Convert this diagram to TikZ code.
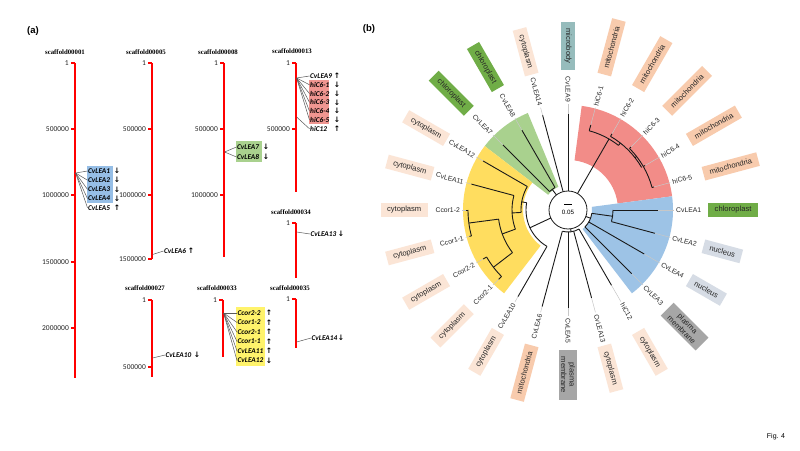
\documentclass[tikz,border=0pt]{standalone}
\usepackage{fontspec}
\setmainfont{Liberation Sans}
\newfontfamily\calib{Carlito}
\newfontfamily\serifb{Liberation Serif}
\newfontfamily\djv{DejaVu Sans}
\definecolor{cytoC}{RGB}{251,229,214}
\definecolor{mitoC}{RGB}{248,203,173}
\definecolor{chloC}{RGB}{112,173,71}
\definecolor{microC}{RGB}{150,188,188}
\definecolor{nucC}{RGB}{214,220,229}
\definecolor{pmC}{RGB}{166,166,166}
\definecolor{redW}{RGB}{242,140,136}
\definecolor{blueW}{RGB}{157,195,230}
\definecolor{greenW}{RGB}{169,209,142}
\definecolor{yellowW}{RGB}{255,221,95}
\definecolor{blueA}{RGB}{150,190,230}
\definecolor{greenA}{RGB}{169,209,142}
\definecolor{redA}{RGB}{240,150,145}
\definecolor{yellowA}{RGB}{255,243,107}
\newcommand\brRad[3]{\draw[br] (#1:#2pt) -- (#1:#3pt);}
\newcommand\brArc[3]{\draw[br] (#2:#1pt) arc[start angle=#2, end angle=#3, radius=#1pt];}
\begin{document}
\begin{tikzpicture}[x=1pt,y=1pt]
\tikzset{
 chrom/.style={draw=red, line width=1.3pt},
 chtick/.style={draw=red, line width=1.1pt},
 tlab/.style={font=\calib\fontsize{7.5}{8}\selectfont, anchor=east, inner sep=0pt, text=black!85},
 ttl/.style={font=\serifb\bfseries\fontsize{6.8}{8}\selectfont, inner sep=0pt},
 gene/.style={font=\calib\bfseries\itshape\fontsize{7.3}{8}\selectfont, anchor=west, inner sep=0.5pt},
 arr/.style={font=\djv\bfseries\fontsize{7.5}{8}\selectfont, inner sep=0pt},
 conn/.style={draw=black!65, line width=0.5pt},
 br/.style={draw=black!90, line width=0.9pt},
 ext/.style={draw=black!22, line width=0.5pt},
 leaf/.style={font=\fontsize{6.8}{8}\selectfont, inner sep=0pt, text=black!85},
 bx/.style={fill=#1, font=\fontsize{7.6}{8.5}\selectfont, inner xsep=6.5pt, inner ysep=2pt, minimum height=14pt, align=center, text=black!85},
 panel/.style={font=\bfseries\fontsize{9.5}{11}\selectfont, inner sep=0pt},
}
\useasboundingbox (0,0) rectangle (800,450);
\fill[white] (0,0) rectangle (800,450);

% ================= panel (a) =================
\begin{scope}[shift={(0,450)}, y=-1pt]
\node[panel] (PA) at (33,31) {(a)};
\node[panel] (PB) at (369,29) {(b)};
\node[font=\fontsize{7}{8}\selectfont, inner sep=0pt] (FIG) at (776,437) {Fig. 4};

% scaffold00001
\node[ttl] (T1) at (65,52) {scaffold00001};
\draw[chrom] (75,63) -- (75,378);
\foreach \yy/\lab [count=\k] in {63/1,129/500000,195/1000000,262/1500000,328/2000000}{
 \draw[chtick] (71,\yy) -- (75,\yy);
 \node[tlab] (N1-\k) at (69,\yy) {\lab};}
\fill[blueA] (86.5,166.5) rectangle (112.5,203.5);
\coordinate (A1) at (75.6,173);
\foreach \i/\yy/\ar in {1/171/↓,2/180.2/↓,3/189.4/↓,4/198.6/↓,5/207.8/↑}{
 \node[gene] (G1-\i) at (87.5,\yy) {CvLEA\i};
 \node[arr] (R1-\i) at (117,\yy) {\ar};
 \draw[conn] (A1) -- (G1-\i.west);}

% scaffold00005
\node[ttl] (T5) at (146,52) {scaffold00005};
\draw[chrom] (152,63) -- (152,259.5);
\foreach \yy/\lab [count=\k] in {63/1,129/500000,195/1000000,259/1500000}{
 \draw[chtick] (148,\yy) -- (152,\yy);
 \node[tlab] (N5-\k) at (146,\yy) {\lab};}
\coordinate (A5) at (152.6,254.5);
\node[gene] (G6) at (163.5,251) {CvLEA6};
\node[arr] (R6) at (191,251) {↑};
\draw[conn] (A5) -- (G6.west);

% scaffold00008
\node[ttl] (T8) at (218,52) {scaffold00008};
\draw[chrom] (224,63) -- (224,257);
\foreach \yy/\lab [count=\k] in {63/1,129/500000,195/1000000}{
 \draw[chtick] (220,\yy) -- (224,\yy);
 \node[tlab] (N8-\k) at (218,\yy) {\lab};}
\fill[greenA] (235.5,141) rectangle (262,162.5);
\coordinate (A8) at (224.6,152);
\foreach \i/\yy in {7/147,8/157}{
 \node[gene] (G8-\i) at (236.5,\yy) {CvLEA\i};
 \node[arr] (R8-\i) at (266,\yy) {↓};
 \draw[conn] (A8) -- (G8-\i.west);}

% scaffold00013
\node[ttl] (T13) at (292,51) {scaffold00013};
\draw[chrom] (296,63) -- (296,192);
\foreach \yy/\lab [count=\k] in {63/1,129/500000}{
 \draw[chtick] (292,\yy) -- (296,\yy);
 \node[tlab] (N13-\k) at (290,\yy) {\lab};}
\fill[redA] (308.5,80) rectangle (329,124.5);
\coordinate (A13) at (296.6,78);
\coordinate (A13b) at (296.6,117);
\foreach \nm/\yy/\ar [count=\k] in {CvLEA9/76/↑,hiC6-1/84.8/↓,hiC6-2/93.6/↓,hiC6-3/102.4/↓,hiC6-4/111.2/↓,hiC6-5/120/↓}{
 \node[gene] (G13-\k) at (309.5,\yy) {\nm};
 \node[arr] (R13-\k) at (337,\yy) {\ar};
 \draw[conn] (A13) -- (G13-\k.west);}
\node[gene] (G13-7) at (309.5,128.8) {hiC12};
\node[arr] (R13-7) at (337,128.8) {↑};
\draw[conn] (A13b) -- (G13-7.west);

% scaffold00034
\node[ttl] (T34) at (291,212) {scaffold00034};
\draw[chrom] (296,223) -- (296,278);
\draw[chtick] (292,223) -- (296,223);
\node[tlab] (N34) at (290,223) {1};
\coordinate (A34) at (296.6,232);
\node[gene] (G34) at (310,234) {CvLEA13};
\node[arr] (R34) at (341,234) {↓};
\draw[conn] (A34) -- (G34.west);

% scaffold00027
\node[ttl] (T27) at (145,288) {scaffold00027};
\draw[chrom] (152,300) -- (152,377);
\foreach \yy/\lab [count=\k] in {300/1,367/500000}{
 \draw[chtick] (148,\yy) -- (152,\yy);
 \node[tlab] (N27-\k) at (146,\yy) {\lab};}
\coordinate (A27) at (152.6,358);
\node[gene] (G27) at (165,355) {CvLEA10};
\node[arr] (R27) at (197,355) {↓};
\draw[conn] (A27) -- (G27.west);

% scaffold00033
\node[ttl] (T33) at (217,288) {scaffold00033};
\draw[chrom] (223,300) -- (223,357);
\draw[chtick] (219,300) -- (223,300);
\node[tlab] (N33) at (217,300) {1};
\fill[yellowA] (236,307) rectangle (265,366);
\coordinate (A33) at (223.6,313);
\foreach \nm/\yy/\ar [count=\k] in {Ccor2-2/313/↑,Ccor1-2/322.5/↑,Ccor2-1/332/↑,Ccor1-1/341.5/↑,CvLEA11/351/↑,CvLEA12/360.5/↓}{
 \node[gene] (G33-\k) at (237,\yy) {\nm};
 \node[arr] (R33-\k) at (269,\yy) {\ar};
 \draw[conn] (A33) -- (G33-\k.west);}

% scaffold00035
\node[ttl] (T35) at (290,288) {scaffold00035};
\draw[chrom] (296,299) -- (296,348);
\draw[chtick] (292,299) -- (296,299);
\node[tlab] (N35) at (290,299) {1};
\coordinate (A35) at (296.6,342);
\node[gene] (G35) at (311,338) {CvLEA14};
\node[arr] (R35) at (341,338) {↓};
\draw[conn] (A35) -- (G35.west);
\end{scope}

% ================= panel (b) =================
\begin{scope}[shift={(568,240)}]
% clade wedges
\fill[redW] (7.5:50pt) arc[start angle=7.5,end angle=82.5,radius=50pt] -- (82.5:105pt) arc[start angle=82.5,end angle=7.5,radius=105pt] -- cycle;
\fill[blueW] (-52.5:24pt) arc[start angle=-52.5,end angle=7.5,radius=24pt] -- (7.5:105pt) arc[start angle=7.5,end angle=-52.5,radius=105pt] -- cycle;
\fill[greenW] (112.5:25pt) arc[start angle=112.5,end angle=142.5,radius=25pt] -- (142.5:105pt) arc[start angle=142.5,end angle=112.5,radius=105pt] -- cycle;
\fill[yellowW] (142.5:45pt) arc[start angle=142.5,end angle=232.5,radius=45pt] -- (232.5:105pt) arc[start angle=232.5,end angle=142.5,radius=105pt] -- cycle;

% right-hand leaves
\foreach \a/\nm/\t/\txt/\col in {0/CvLEA1/90/chloroplast/chloC, -15/CvLEA2/90/nucleus/nucC, -30/CvLEA4/88/nucleus/nucC, -45/CvLEA3/90/{plasma\\membrane}/pmC, -60/hiC12/87/cytoplasm/cytoC, -75/CvLEA13/91/cytoplasm/cytoC, -90/CvLEA5/98/{plasma\\membrane}/pmC, 15/hiC6-5/89/mitochondria/mitoC, 30/hiC6-4/89/mitochondria/mitoC, 45/hiC6-3/89/mitochondria/mitoC, 60/hiC6-2/88/mitochondria/mitoC, 75/hiC6-1/88/mitochondria/mitoC}{
 \draw[ext] (\a:\t pt) -- (\a:106pt);
 \node[leaf, anchor=west, rotate=\a] (L\a) at (\a:108pt) {\nm};
 \node[bx=\col, anchor=west, rotate=\a] (B\a) at (\a:140pt) {\txt};}
% left-hand leaves
\foreach \a/\nm/\t/\txt/\col in {90/CvLEA9/96/microbody/microC, 105/CvLEA14/98/cytoplasm/cytoC, 120/CvLEA8/92/chloroplast/chloC, 135/CvLEA7/92/chloroplast/chloC, 150/CvLEA12/98/cytoplasm/cytoC, 165/CvLEA11/100/cytoplasm/cytoC, 180/Ccor1-2/102/cytoplasm/cytoC, 195/Ccor1-1/102/cytoplasm/cytoC, 210/Ccor2-2/98/cytoplasm/cytoC, 225/Ccor2-1/98/cytoplasm/cytoC, 240/CvLEA10/100/cytoplasm/cytoC, 255/CvLEA6/100/mitochondria/mitoC}{
 \draw[ext] (\a:\t pt) -- (\a:106pt);
 \node[leaf, anchor=east, rotate=\a-180] (L\a) at (\a:108pt) {\nm};
 \node[bx=\col, anchor=east, rotate=\a-180] (B\a) at (\a:140pt) {\txt};}

% tree
\draw[br, line width=0.8pt] (0,0) circle[radius=19pt];
\brRad{90}{19}{96}
\brRad{105}{19}{98}
% green clade
\brRad{127.5}{19}{26}
\brArc{26}{120}{135}
\brRad{120}{26}{92}
\brRad{135}{26}{92}
% red clade
\brRad{60}{19}{82}
\brArc{82}{75}{52}
\brRad{75}{82}{88}
\brRad{52}{82}{85}
\brArc{85}{60}{30}
\brRad{60}{85}{88}
\brRad{38}{85}{87}
\brArc{87}{45}{15}
\brRad{45}{87}{89}
\brRad{30}{87}{89}
\brRad{15}{87}{89}
% blue clade
\brRad{-20}{19}{24}
\brArc{24}{-45}{-8}
\brRad{-45}{24}{90}
\brRad{-30}{24}{88}
\brRad{-8}{24}{45}
\brArc{45}{-15}{0}
\brRad{-15}{45}{90}
\brRad{0}{45}{90}
% bottom leaves
\brRad{-82}{19}{22}
\brArc{22}{-105}{-60}
\brRad{-60}{22}{87}
\brRad{-75}{22}{91}
\brRad{-90}{22}{98}
\brRad{-105}{22}{100}
% yellow clade and CvLEA10
\brRad{205}{19}{42}
\brArc{42}{170}{240}
\brRad{240}{42}{100}
\brRad{170}{42}{47}
\brArc{47}{150}{183}
\brRad{150}{47}{98}
\brRad{183}{47}{56}
\brArc{56}{165}{200}
\brRad{165}{56}{100}
\brRad{200}{56}{70}
\brArc{70}{187.5}{217.5}
\brRad{187.5}{70}{100}
\brArc{100}{180}{195}
\brRad{180}{100}{102}
\brRad{195}{100}{102}
\brRad{217.5}{70}{94}
\brArc{94}{210}{225}
\brRad{210}{94}{98}
\brRad{225}{94}{98}
% scale bar
\draw[line width=0.8pt] (-4,6) -- (4,6);
\node[font=\fontsize{6.2}{7}\selectfont, inner sep=0pt] (SC) at (0,-2) {0.05};
\end{scope}
\end{tikzpicture}
\end{document}
